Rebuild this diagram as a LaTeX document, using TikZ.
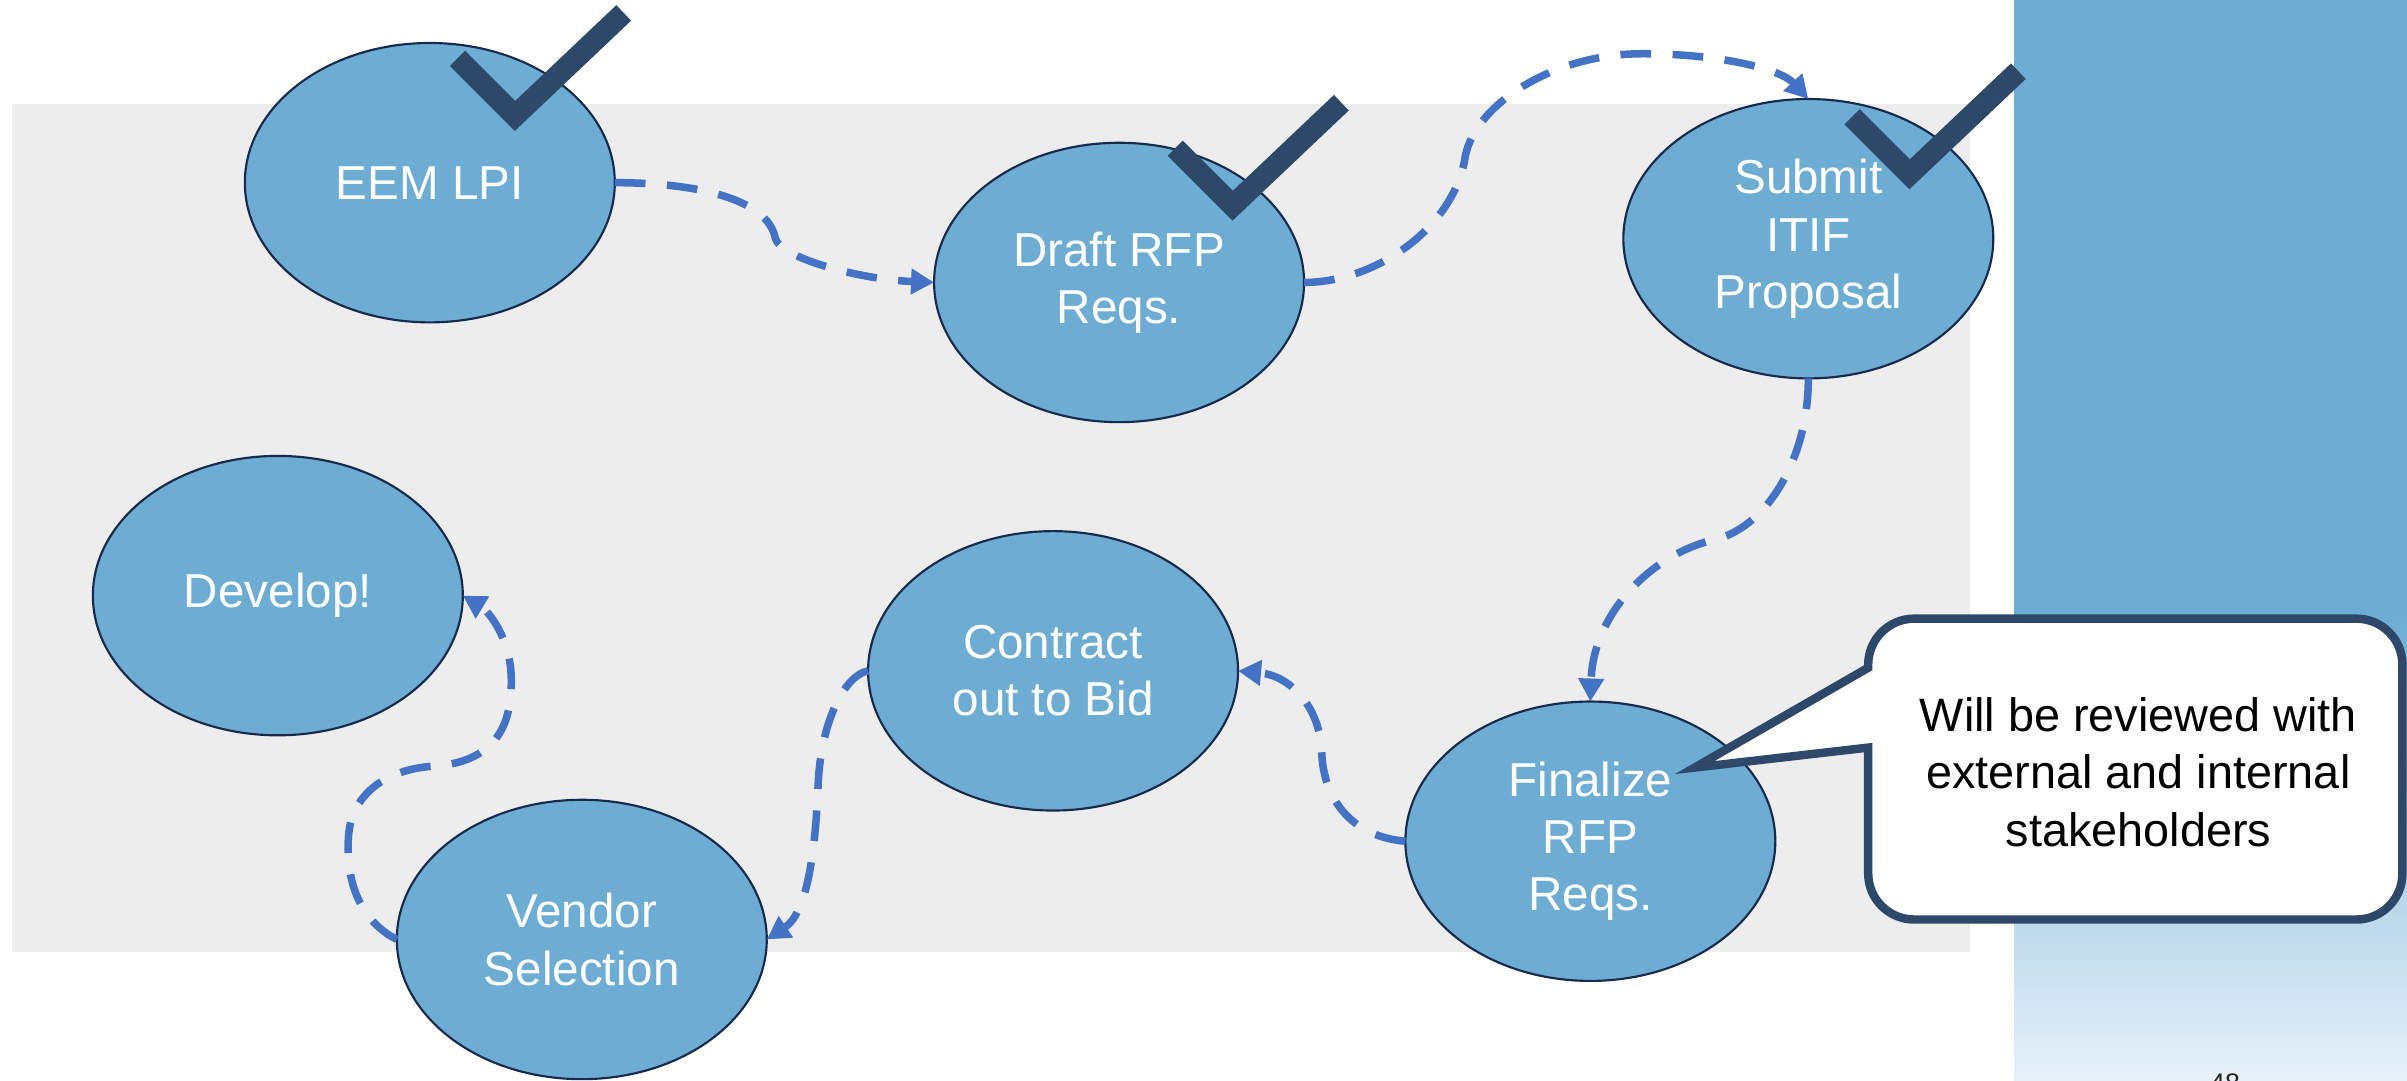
\documentclass[tikz,border=0pt]{standalone}
\usepackage{fontspec}
\setmainfont{Liberation Sans}
\usetikzlibrary{shapes.geometric,arrows.meta}
\definecolor{nodefill}{HTML}{6EADD3}
\definecolor{nodeedge}{HTML}{172A4D}
\definecolor{flowcol}{HTML}{4472C4}
\definecolor{checkcol}{HTML}{2D4868}
\definecolor{bggray}{HTML}{EDEDED}
\definecolor{panelblue}{HTML}{6EADD3}
\definecolor{panellight}{HTML}{E7F1F9}
\begin{document}
\begin{tikzpicture}[x=1pt,y=-1pt,
  stage/.style={ellipse, draw=nodeedge, line width=1.4pt, fill=nodefill,
    minimum width=241pt, minimum height=182pt, inner sep=0pt, outer sep=0pt,
    align=center, text=white, font=\fontsize{31}{37.4}\selectfont},
  flow/.style={draw=flowcol, line width=4.9pt, dash pattern=on 20pt off 14pt,
    -{Triangle[length=15pt,width=16pt]}},
  donemark/.style={draw=checkcol, line width=14pt, line join=miter, miter limit=10, line cap=butt},
  calloutbox/.style={draw=checkcol, fill=white, line width=5.5pt, line join=miter, miter limit=20},
  notetext/.style={align=center, text=black, inner sep=0pt, font=\fontsize{30.5}{37.5}\selectfont}
]
\useasboundingbox (0,0) rectangle (1568,704);
% background areas
\fill[bggray] (8,68) rectangle (1283,620);
\fill[panelblue] (1312,0) rectangle (1568,400);
\shade[top color=panelblue, bottom color=panellight] (1312,400) rectangle (1568,704);

% stages
\node[stage] (eem) at (280,119) {EEM LPI};
\node[stage] (draft) at (729,184) {Draft RFP\\Reqs.};
\node[stage] (submit) at (1178,155.5) {Submit\\ITIF\\Proposal};
\node[stage] (develop) at (181,388) {Develop!};
\node[stage] (contract) at (686,437) {Contract\\out to Bid};
\node[stage] (vendor) at (379,612) {Vendor\\Selection};
\node[stage] (final) at (1036,548) {Finalize\\RFP\\Reqs.};

% connectors
\draw[flow] (eem.east) .. controls (455,119) and (500,130) .. (505,155)
  .. controls (508,168) and (560,182) .. (draft.west);
\draw[flow] (draft.east) .. controls (895,184) and (945,150) .. (954,105)
  .. controls (958,70) and (1010,35) .. (1070,35)
  .. controls (1120,35) and (1160,45) .. (submit.north);
\draw[flow] (submit.south) .. controls (1178,300) and (1150,345) .. (1115,352)
  .. controls (1075,362) and (1038,400) .. (final.north);
\draw[flow] (final.west) .. controls (880,545) and (862,520) .. (861,490)
  .. controls (860,460) and (840,440) .. (contract.east);
\draw[flow] (contract.west) .. controls (550,440) and (535,470) .. (533,510)
  .. controls (531,560) and (525,595) .. (vendor.east);
\draw[flow] (vendor.west) .. controls (235,600) and (225,575) .. (227,545)
  .. controls (229,515) and (255,500) .. (285,499)
  .. controls (325,495) and (334,470) .. (333,440)
  .. controls (332,415) and (318,398) .. (develop.east);

% check marks
\draw[donemark] (298,38) -- (335.5,75.5) -- (406.3,8.4);
\draw[donemark, shift={(467.5,58.5)}] (298,38) -- (335.5,75.5) -- (406.3,8.4);
\draw[donemark, shift={(908.5,38)}] (298,38) -- (335.5,75.5) -- (406.3,8.4);

% callout
\draw[calloutbox] (1217,435) -- (1104,500) -- (1217,487) -- (1217,569)
  .. controls (1217,585.6) and (1230.4,599) .. (1247,599) -- (1535,599)
  .. controls (1551.6,599) and (1565,585.6) .. (1565,569) -- (1565,433)
  .. controls (1565,416.4) and (1551.6,403) .. (1535,403) -- (1247,403)
  .. controls (1230.4,403) and (1217,416.4) .. (1217,433) -- cycle;
\node[notetext] (note) at (1393,503) {Will be reviewed with\\external and internal\\stakeholders};

% page number (cut by the lower edge, as in the reference)
\node[anchor=base, inner sep=0pt, text=black!85, font=\fontsize{17.5}{20}\selectfont] (pnum) at (1449.5,711.5) {48};
\end{tikzpicture}
\end{document}
